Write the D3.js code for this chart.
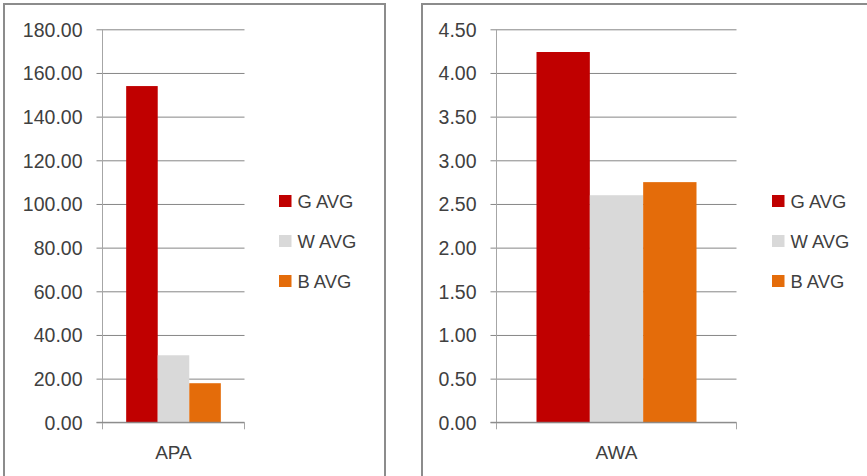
<!DOCTYPE html>
<html>
<head>
<meta charset="utf-8">
<script src="https://cdn.jsdelivr.net/npm/d3@7"></script>
<style>
  html, body { margin: 0; padding: 0; background: #fff; }
  svg { display: block; }
  text { font-family: "Liberation Sans", Arial, sans-serif; fill: #404040; }
</style>
</head>
<body>
<svg id="chart" width="867" height="476"></svg>
<script>
// Series shared by both panels
const seriesNames = ["G AVG", "W AVG", "B AVG"];
const seriesColors = ["#C00000", "#D9D9D9", "#E46C0A"];

// APA panel
const apaCategories = ["APA"];
const apaValues = [154.0, 30.7, 17.9];
const apaTicks = [0, 20, 40, 60, 80, 100, 120, 140, 160, 180];

// AWA panel
const awaCategories = ["AWA"];
const awaValues = [4.24, 2.60, 2.75];
const awaTicks = [0, 0.5, 1, 1.5, 2, 2.5, 3, 3.5, 4, 4.5];

const svg = d3.select("#chart");
const fmt = d3.format(".2f");

function drawPanel(opts) {
  const g = svg.append("g");

  // panel frame
  g.append("rect")
    .attr("x", opts.frame[0]).attr("y", opts.frame[1])
    .attr("width", opts.frame[2]).attr("height", opts.frame[3])
    .attr("fill", "none").attr("stroke", "#8c8c8c").attr("stroke-width", 2);

  const y = d3.scaleLinear()
    .domain([opts.ticks[0], opts.ticks[opts.ticks.length - 1]])
    .range([opts.bottom, opts.top]);

  const x0 = d3.scaleBand()
    .domain(opts.categories)
    .range([opts.left, opts.right])
    .paddingInner(0).paddingOuter(0.25);

  const x1 = d3.scaleBand()
    .domain(seriesNames)
    .range([0, x0.bandwidth()]);

  // gridlines + tick labels
  const yAxis = d3.axisLeft(y)
    .tickValues(opts.ticks)
    .tickFormat(fmt)
    .tickSize(-(opts.right - opts.left))
    .tickPadding(20);

  const ax = g.append("g")
    .attr("transform", `translate(${opts.left},0)`)
    .call(yAxis);
  ax.select(".domain").remove();
  ax.selectAll(".tick line")
    .attr("x1", -6)
    .attr("stroke", "#868686").attr("stroke-width", 1);
  ax.selectAll(".tick text")
    .style("font-family", '"Liberation Sans", Arial, sans-serif')
    .style("font-size", "19.5px")
    .attr("fill", "#404040")
    .attr("dy", "0.36em");

  // bars
  opts.categories.forEach(cat => {
    g.append("g")
      .attr("transform", `translate(${x0(cat)},0)`)
      .selectAll("rect")
      .data(opts.values.map((v, i) => ({ name: seriesNames[i], value: v, color: seriesColors[i] })))
      .join("rect")
      .attr("x", d => x1(d.name))
      .attr("y", d => y(d.value))
      .attr("width", x1.bandwidth())
      .attr("height", d => y(0) - y(d.value))
      .attr("fill", d => d.color);
  });

  // vertical axis line
  g.append("line")
    .attr("x1", opts.left).attr("x2", opts.left)
    .attr("y1", opts.top).attr("y2", opts.bottom + 7)
    .attr("stroke", "#a6a6a6").attr("stroke-width", 1);

  // category axis baseline and end tick
  g.append("line")
    .attr("x1", opts.left - 6).attr("x2", opts.right)
    .attr("y1", opts.bottom).attr("y2", opts.bottom)
    .attr("stroke", "#868686").attr("stroke-width", 1);
  g.append("line")
    .attr("x1", opts.right).attr("x2", opts.right)
    .attr("y1", opts.bottom).attr("y2", opts.bottom + 7)
    .attr("stroke", "#a6a6a6").attr("stroke-width", 1);

  // category label
  g.selectAll(".cat")
    .data(opts.categories)
    .join("text")
    .attr("class", "cat")
    .attr("x", d => x0(d) + x0.bandwidth() / 2)
    .attr("y", opts.bottom + 30)
    .attr("dy", "0.36em")
    .attr("text-anchor", "middle")
    .style("font-size", "19px")
    .text(d => d);

  // legend
  const lg = g.append("g").attr("transform", `translate(${opts.legendX},${opts.legendY})`);
  const item = lg.selectAll("g")
    .data(seriesNames)
    .join("g")
    .attr("transform", (d, i) => `translate(0,${i * 40})`);
  item.append("rect")
    .attr("x", 0).attr("y", -6)
    .attr("width", 12.5).attr("height", 12)
    .attr("fill", (d, i) => seriesColors[i]);
  item.append("text")
    .attr("x", 18.5).attr("y", 0)
    .attr("dy", "0.36em")
    .style("font-size", "18.4px")
    .text(d => d);
}

drawPanel({
  frame: [4, 4, 381, 490],
  categories: apaCategories, values: apaValues, ticks: apaTicks,
  left: 102.5, right: 244.5, top: 29.3, bottom: 422.3,
  legendX: 279, legendY: 201
});

drawPanel({
  frame: [422, 4, 460, 490],
  categories: awaCategories, values: awaValues, ticks: awaTicks,
  left: 496.5, right: 736.5, top: 29.3, bottom: 422.3,
  legendX: 772, legendY: 201
});
</script>
</body>
</html>
